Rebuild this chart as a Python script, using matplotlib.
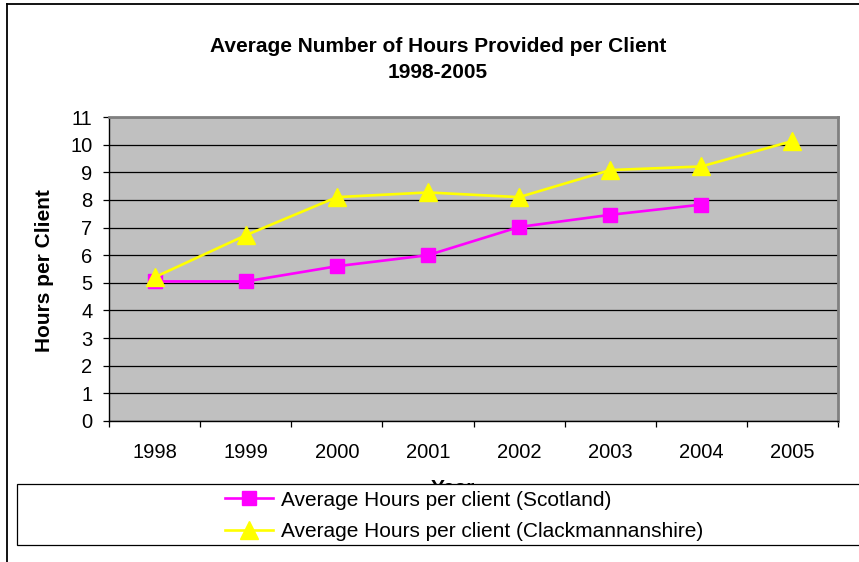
import matplotlib
matplotlib.use("Agg")
import matplotlib.pyplot as plt
from matplotlib.lines import Line2D
from matplotlib.patches import Rectangle

years = ["1998", "1999", "2000", "2001", "2002", "2003", "2004", "2005"]
scotland = [5.05, 5.05, 5.6, 6.0, 7.02, 7.46, 7.83, None]
clack = [5.2, 6.72, 8.1, 8.27, 8.1, 9.08, 9.21, 10.13]
yticks = list(range(0, 12))

plt.rcParams['font.family'] = ['Liberation Sans', 'DejaVu Sans']

W, H = 859, 562
fig = plt.figure(figsize=(W / 100, H / 100), dpi=100)
fig.patch.set_facecolor('white')

def fx(px):
    return px / W

def fy(py):
    return 1 - py / H

ax = fig.add_axes([fx(109), fy(421), fx(838) - fx(109), fy(117) - fy(421)])
ax.set_facecolor('#C0C0C0')

xs = list(range(len(years)))
sx = [x for x, v in zip(xs, scotland) if v is not None]
sv = [v for v in scotland if v is not None]
ax.plot(sx, sv, color='#FF00FF', lw=1.9, marker='s', markersize=10.5,
        markerfacecolor='#FF00FF', markeredgecolor='#FF00FF', zorder=3,
        label='Average Hours per client (Scotland)')
ax.plot(xs, clack, color='#FFFF00', lw=1.9, marker='^', markersize=12.5,
        markerfacecolor='#FFFF00', markeredgecolor='#FFFF00', zorder=4,
        label='Average Hours per client (Clackmannanshire)')

ax.set_xlim(-0.5, len(years) - 0.5)
ax.set_ylim(0, 11)
ax.set_yticks(yticks)
ax.set_yticklabels([str(t) for t in yticks], fontsize=14.5)
ax.yaxis.grid(True, color='black', lw=0.9)
ax.set_axisbelow(True)

ax.set_xticks([x - 0.5 for x in range(len(years) + 1)])
ax.set_xticklabels([])
ax.set_xticks(xs, minor=True)
ax.set_xticklabels(years, minor=True, fontsize=14.5)
ax.tick_params(axis='x', which='major', length=4, direction='out', width=0.9)
ax.tick_params(axis='x', which='minor', length=0, pad=16)
ax.tick_params(axis='y', length=4, direction='out', width=0.9, pad=8)

for s in ['left', 'bottom']:
    ax.spines[s].set_color('black')
    ax.spines[s].set_linewidth(1.0)
for s in ['top', 'right']:
    ax.spines[s].set_color('#808080')
    ax.spines[s].set_linewidth(2.0)

# x-axis title, mostly hidden behind the legend box as in the reference
ax.set_xlabel('Year', fontsize=15, fontweight='bold')
ax.xaxis.set_label_coords((453 - 109) / 729, -(479 - 421) / 304)
ax.xaxis.label.set_va('top')

fig.text(fx(45), fy(271), 'Hours per Client', rotation=90, ha='center',
         va='center', fontsize=15, fontweight='bold')

fig.text(fx(438), fy(46), 'Average Number of Hours Provided per Client',
         ha='center', va='center', fontsize=15, fontweight='bold')
fig.text(fx(438), fy(73), '1998-2005', ha='center', va='center',
         fontsize=15, fontweight='bold')

# outer border
fig.add_artist(Line2D([fx(7), fx(7)], [fy(4), 0], color='black', lw=1.3,
                      transform=fig.transFigure))
fig.add_artist(Line2D([fx(7), 1], [fy(4), fy(4)], color='black', lw=1.3,
                      transform=fig.transFigure))

# legend box
rect = Rectangle((fx(17), fy(545)), 1.0, fy(484) - fy(545),
                 transform=fig.transFigure, facecolor='white',
                 edgecolor='black', lw=0.9, zorder=2)
fig.add_artist(rect)

handles, labels = ax.get_legend_handles_labels()
leg = fig.legend(handles, labels, loc='center left',
                 bbox_to_anchor=(fx(225), fy(516)), frameon=False,
                 fontsize=15, handlelength=2.3, handletextpad=0.4,
                 labelspacing=0.62, borderaxespad=0, borderpad=0)
leg.set_zorder(5)

fig.savefig('out.png', dpi=100)
